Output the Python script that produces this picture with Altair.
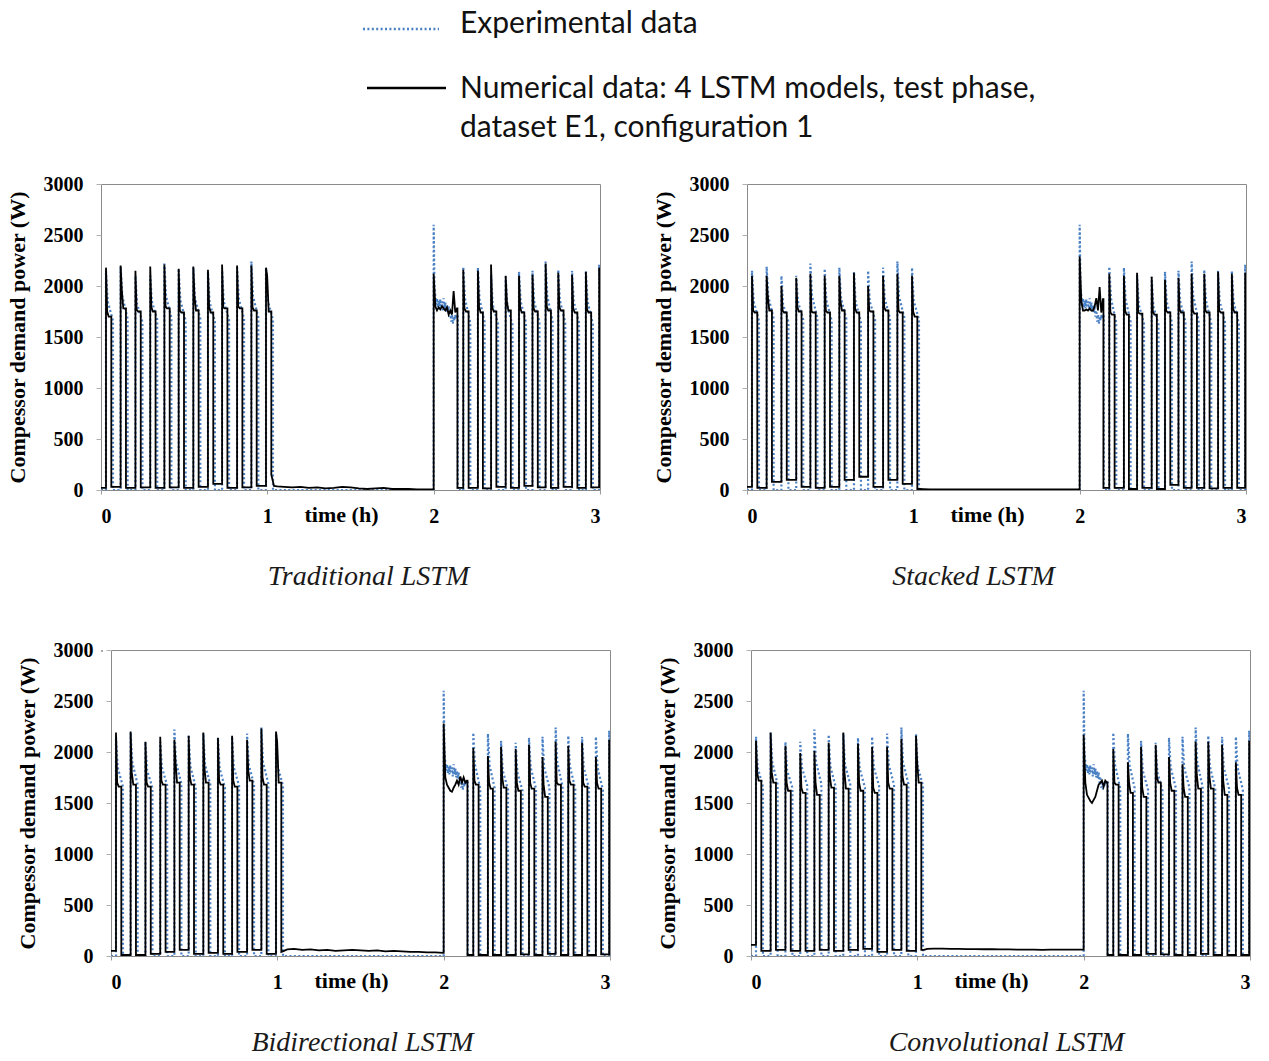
import altair as alt
import pandas as pd

BLUE = "#4a80c4"
SERIF = "Liberation Serif"

# ---------------- Experimental data (same test set in every panel) ----------------
CYCLE_ON = [0.030, 0.118, 0.207, 0.296, 0.381, 0.467, 0.555, 0.643, 0.728, 0.818, 0.904, 0.992,
            2.178, 2.266, 2.345, 2.433, 2.513, 2.594, 2.673, 2.749, 2.832, 2.915, 2.995]
EXP_OFF = [0.072, 0.160, 0.249, 0.338, 0.423, 0.509, 0.597, 0.685, 0.770, 0.860, 0.946, 1.034,
           2.220, 2.306, 2.387, 2.474, 2.555, 2.636, 2.715, 2.791, 2.874, 2.957, 3.040]
EXP_PEAK = [2150, 2190, 2100, 2100, 2220, 2170, 2180, 2140, 2150, 2180, 2240, 2180,
            2190, 2180, 2110, 2090, 2140, 2150, 2240, 2160, 2150, 2150, 2210]
EXP_MID = [1850, 1900, 1820, 1850, 1900, 1860, 1880, 1840, 1850, 1880, 1900, 1860,
           1880, 1870, 1820, 1800, 1850, 1850, 1900, 1860, 1850, 1850, 1880]
EXP_END = [1660, 1680, 1650, 1670, 1690, 1660, 1680, 1650, 1670, 1680, 1690, 1670,
           1640, 1650, 1630, 1620, 1640, 1650, 1660, 1640, 1640, 1630, 1650]
EXP_LONG_T = [2.000, 2.005, 2.010, 2.015, 2.020, 2.025, 2.030, 2.035, 2.040, 2.045,
              2.050, 2.055, 2.060, 2.065, 2.070, 2.075, 2.080, 2.085, 2.090, 2.095,
              2.100, 2.105, 2.110, 2.115, 2.120, 2.125, 2.130, 2.135, 2.140, 2.145]
EXP_LONG = [2600, 2000, 1900, 1820, 1880, 1790, 1860, 1780, 1870, 1800,
            1850, 1760, 1880, 1780, 1840, 1750, 1820, 1740, 1800, 1700,
            1760, 1650, 1720, 1630, 1700, 1660, 1720, 1680, 1720, 1700]

# ---------------- Numerical data (one set per LSTM model) ----------------
NUM_OFF = [0.062, 0.150, 0.239, 0.328, 0.413, 0.499, 0.587, 0.675, 0.760, 0.850, 0.936, 1.024,
           2.210, 2.296, 2.377, 2.464, 2.545, 2.626, 2.705, 2.781, 2.864, 2.947, 3.030]
GAP_T = [1.040, 1.060, 1.100, 1.150, 1.200, 1.250, 1.300, 1.350, 1.400, 1.450, 1.500,
         1.550, 1.600, 1.650, 1.700, 1.750, 1.800, 1.850, 1.900, 1.950, 1.998]
NUM_LONG_T = [2.000, 2.010, 2.020, 2.030, 2.040, 2.050, 2.060, 2.070, 2.080, 2.090,
              2.100, 2.110, 2.120, 2.130, 2.140]

TRAD_PEAK = [2180, 2200, 2150, 2190, 2210, 2170, 2190, 2160, 2210, 2200, 2200, 2180,
             2160, 2150, 2210, 2100, 2100, 2110, 2220, 2130, 2110, 2140, 2180]
TRAD_HUMP = [1750, 1960, 1770, 1790, 1800, 1760, 1900, 1800, 1790, 1800, 1790, 2100,
             1780, 1800, 1790, 1850, 1790, 1780, 1800, 1790, 1780, 1770, 1800]
TRAD_LEVEL = [1700, 1780, 1750, 1750, 1780, 1740, 1760, 1740, 1780, 1780, 1760, 1750,
              1750, 1740, 1750, 1760, 1740, 1750, 1760, 1760, 1740, 1740, 1780]
TRAD_BASE = [30, 20, 25, 20, 25, 20, 30, 60, 20, 25, 40, 150,
             20, 15, 30, 20, 40, 25, 20, 30, 20, 25, 20]
TRAD_GAP = [40, 35, 30, 25, 30, 20, 25, 15, 20, 30, 25, 15, 10, 15, 20, 10, 10, 10, 5, 5, 5]
TRAD_LONG = [2120, 1800, 1760, 1790, 1770, 1800, 1780, 1760, 1790, 1720, 1760, 1720, 1950, 1740, 1780]

STACK_PEAK = [2100, 2100, 2000, 2080, 2120, 2100, 2100, 2130, 2000, 2100, 2120, 2100,
              2120, 2100, 2130, 2090, 2060, 2080, 2120, 2120, 2140, 2120, 2130]
STACK_HUMP = [1760, 1900, 1760, 1790, 1750, 1760, 1850, 1780, 1760, 1790, 1760, 1750,
              1740, 1760, 1740, 1750, 1760, 1770, 1760, 1760, 1760, 1780, 1760]
STACK_LEVEL = [1740, 1760, 1740, 1750, 1740, 1740, 1760, 1740, 1750, 1760, 1740, 1700,
               1720, 1720, 1730, 1720, 1740, 1740, 1730, 1740, 1740, 1740, 1740]
STACK_BASE = [20, 80, 100, 30, 20, 30, 100, 130, 30, 100, 60, 10,
              20, 10, 20, 10, 50, 20, 20, 15, 20, 20, 20]
STACK_GAP = [10, 8, 5, 5, 5, 5, 5, 5, 5, 5, 5, 5, 5, 5, 5, 5, 5, 5, 5, 5, 5]
STACK_LONG = [2290, 1850, 1760, 1760, 1770, 1760, 1780, 1760, 1760, 1800, 1880, 1760, 1990, 1740, 1870]

BIDI_PEAK = [2190, 2200, 2100, 2150, 2120, 2160, 2190, 2140, 2160, 2120, 2230, 2200,
             2040, 1960, 2050, 2030, 2070, 1950, 2100, 2060, 2090, 1950, 2120]
BIDI_HUMP = [1700, 1800, 1700, 1720, 1900, 1760, 1840, 1720, 1720, 1820, 1750, 2100,
             1720, 1700, 1750, 1700, 1700, 1680, 1700, 1720, 1700, 1700, 1800]
BIDI_LEVEL = [1660, 1680, 1660, 1680, 1700, 1680, 1700, 1680, 1660, 1720, 1680, 1700,
              1680, 1640, 1650, 1620, 1640, 1560, 1680, 1680, 1660, 1640, 1700]
BIDI_BASE = [10, 10, 20, 40, 60, 20, 30, 20, 40, 60, 20, 40,
             10, 10, 10, 15, 10, 20, 10, 10, 10, 15, 10]
BIDI_GAP = [50, 65, 70, 60, 65, 55, 60, 50, 55, 60, 55, 50, 55, 45, 50, 45, 40, 40, 35, 35, 30]
BIDI_LONG = [2280, 1750, 1680, 1650, 1620, 1610, 1650, 1680, 1720, 1680, 1760, 1700, 1750, 1700, 1720]

CONV_PEAK = [2110, 2190, 2060, 1990, 2010, 2090, 2190, 2080, 2050, 2050, 2130, 2160,
             2030, 1900, 2050, 2070, 1950, 1880, 2100, 2100, 2070, 1900, 2110]
CONV_HUMP = [1800, 1800, 1700, 1650, 1700, 1760, 1800, 1700, 1650, 1700, 1760, 1900,
             1700, 1700, 1650, 1760, 1700, 1650, 1780, 1760, 1720, 1650, 1800]
CONV_LEVEL = [1720, 1700, 1620, 1600, 1580, 1650, 1640, 1620, 1600, 1640, 1680, 1700,
              1680, 1600, 1560, 1700, 1620, 1560, 1640, 1640, 1580, 1580, 1700]
CONV_BASE = [50, 60, 50, 50, 60, 50, 60, 70, 40, 60, 50, 60,
             10, 10, 20, 15, 10, 10, 20, 10, 10, 10, 30]
CONV_GAP = [60, 70, 72, 72, 70, 70, 68, 68, 66, 66, 65, 64, 63, 62, 62, 60, 62, 62, 63, 63, 63]
CONV_LONG = [2170, 1700, 1580, 1550, 1520, 1500, 1530, 1560, 1620, 1680, 1700, 1720, 1660, 1720, 1700]

START_BASE = {"trad": 20, "stack": 30, "bidi": 50, "conv": 110}
LONG_BASE = {"trad": 20, "stack": 20, "bidi": 10, "conv": 10}

PANEL_TITLES = ["Traditional LSTM", "Stacked LSTM", "Bidirectional LSTM", "Convolutional LSTM"]
Y_TITLE = "Compessor demand power (W)"
X_TITLE = "time (h)"
X_TICKS = [0, 1, 2, 3]
Y_TICKS = [0, 500, 1000, 1500, 2000, 2500, 3000]
LEGEND_LABELS = ["Experimental data",
                 "Numerical data: 4 LSTM models, test phase,\ndataset E1, configuration 1"]


def exp_table():
    pts = [(0.0, 0)]
    for i in range(23):
        if i == 12:
            pts.append((EXP_LONG_T[0], 0))
            pts += list(zip(EXP_LONG_T, EXP_LONG))
            pts.append((EXP_LONG_T[-1], 0))
        on, off = CYCLE_ON[i], EXP_OFF[i]
        pts += [(on, 0), (on, EXP_PEAK[i]), (on + 0.010, EXP_MID[i]),
                (off, EXP_END[i]), (off, 0)]
    return pd.DataFrame({"t": [p[0] for p in pts], "p": [p[1] for p in pts],
                         "i": list(range(len(pts)))})


def num_table(key, peak, hump, level, base, gap, long_v):
    prev = START_BASE[key]
    pts = [(0.0, prev)]
    for i in range(23):
        if i == 12:
            pts += list(zip(GAP_T, gap))
            pts.append((NUM_LONG_T[0], gap[-1]))
            pts += list(zip(NUM_LONG_T, long_v))
            pts += [(2.143, long_v[-1]), (2.143, LONG_BASE[key])]
            prev = LONG_BASE[key]
        on, off = CYCLE_ON[i], NUM_OFF[i]
        pts += [(on, prev), (on, peak[i]), (on + 0.007, hump[i]), (on + 0.016, level[i]),
                (off, level[i]), (off, base[i])]
        prev = base[i]
    return pd.DataFrame({"t": [p[0] for p in pts], "p": [p[1] for p in pts],
                         "i": list(range(len(pts)))})


EXP_DF = exp_table()
NUM_DFS = [
    num_table("trad", TRAD_PEAK, TRAD_HUMP, TRAD_LEVEL, TRAD_BASE, TRAD_GAP, TRAD_LONG),
    num_table("stack", STACK_PEAK, STACK_HUMP, STACK_LEVEL, STACK_BASE, STACK_GAP, STACK_LONG),
    num_table("bidi", BIDI_PEAK, BIDI_HUMP, BIDI_LEVEL, BIDI_BASE, BIDI_GAP, BIDI_LONG),
    num_table("conv", CONV_PEAK, CONV_HUMP, CONV_LEVEL, CONV_BASE, CONV_GAP, CONV_LONG),
]

W, H = 499, 306
ONE = pd.DataFrame({"k": [0]})


def panel(k, dx, extra=None):
    x = alt.X("t:Q", scale=alt.Scale(domain=[0, 3], nice=False, zero=False),
              axis=alt.Axis(values=X_TICKS, format="d", title=X_TITLE, titleX=240, titleY=14,
                            titleBaseline="top", titleAlign="center", tickSize=4,
                            tickColor="#9a9a9a", labelPadding=12))
    y = alt.Y("p:Q", scale=alt.Scale(domain=[0, 3000], nice=False),
              axis=alt.Axis(values=Y_TICKS, format="d", title=Y_TITLE, tickSize=5,
                            tickColor="#b0b0b0", labelPadding=13, titlePadding=14))
    exp = alt.Chart(EXP_DF).mark_line(color=BLUE, strokeDash=[2, 2.4], strokeWidth=2.2,
                                      clip=True).encode(x=x, y=y, order="i:Q")
    num = alt.Chart(NUM_DFS[k]).mark_line(color="black", strokeWidth=1.8,
                                          clip=True).encode(x=x, y=y, order="i:Q")
    layers = [exp, num] + (extra or [])
    return alt.layer(*layers).properties(
        width=W, height=H,
        title=alt.TitleParams(PANEL_TITLES[k], orient="bottom", anchor="middle", dx=dx,
                              offset=37, font=SERIF, fontStyle="italic", fontWeight="normal",
                              fontSize=28, color="#1a1a1a"))


# legend + canvas anchor, placed relative to the top-left panel (plot origin at 100, 183)
anchor = alt.Chart(ONE).mark_point(opacity=0, size=1).encode(
    x=alt.value(-100), y=alt.value(-183))
leg_rule_exp = alt.Chart(ONE).mark_rule(color=BLUE, strokeDash=[2, 2.4], strokeWidth=2.5).encode(
    x=alt.value(262), x2=alt.value(338), y=alt.value(-155))
leg_rule_num = alt.Chart(ONE).mark_rule(color="black", strokeWidth=2.5).encode(
    x=alt.value(266), x2=alt.value(345), y=alt.value(-96))
leg_text_exp = alt.Chart(pd.DataFrame({"label": [LEGEND_LABELS[0]]})).mark_text(
    align="left", baseline="alphabetic", font="Lato", fontSize=30, color="#111").encode(
    x=alt.value(359), y=alt.value(-151), text="label:N")
leg_text_num = alt.Chart(pd.DataFrame({"label": [LEGEND_LABELS[1]]})).mark_text(
    align="left", baseline="alphabetic", font="Lato", fontSize=30, color="#111",
    lineBreak="\n", lineHeight=39).encode(
    x=alt.value(359), y=alt.value(-86), text="label:N")

spacer = alt.Chart(ONE).mark_point(opacity=0, size=1).encode(
    x=alt.value(0), y=alt.value(0)).properties(width=1, height=1)

row1 = alt.hconcat(
    panel(0, 18, [anchor, leg_rule_exp, leg_rule_num, leg_text_exp, leg_text_num]),
    panel(1, -23), spacing=147, bounds="flush")
row2 = alt.hconcat(spacer, alt.hconcat(panel(2, 2), panel(3, 6), spacing=141, bounds="flush"),
                   spacing=9, bounds="flush")

chart = alt.vconcat(row1, row2, spacing=466, bounds="flush").properties(
    padding={"left": 0, "top": 0, "right": 0, "bottom": 0}
).configure_view(stroke="#8a8a8a", strokeWidth=1).configure_axis(
    grid=False, domain=False, labelFont=SERIF, labelFontWeight="bold", labelFontSize=20,
    labelColor="black", titleFont=SERIF, titleFontWeight="bold", titleFontSize=22,
    titleColor="black"
)

chart.save("out.html", embed_options={"renderer": "svg", "actions": False})
